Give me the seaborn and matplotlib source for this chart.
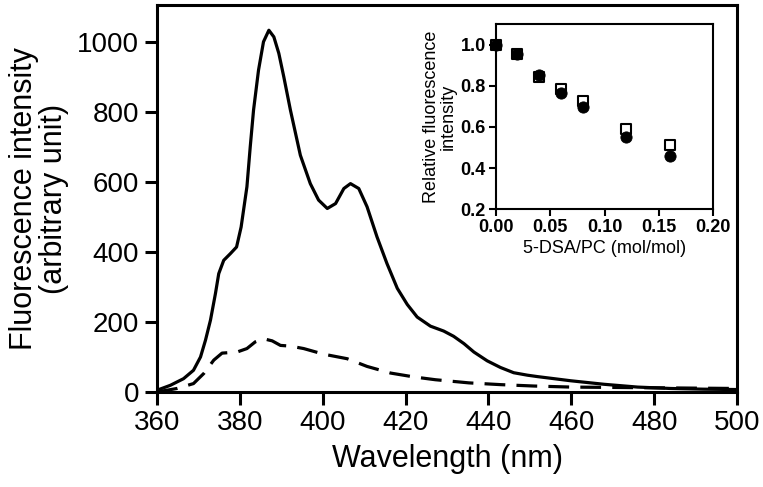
import numpy as np
import pandas as pd
import matplotlib
matplotlib.use("Agg")
import matplotlib.pyplot as plt
import seaborn as sns

sns.set_style("ticks")
plt.rcParams['font.family'] = ['Liberation Sans', 'DejaVu Sans']
plt.rcParams['text.color'] = 'black'
plt.rcParams['axes.labelcolor'] = 'black'
plt.rcParams['axes.edgecolor'] = 'black'
plt.rcParams['xtick.color'] = 'black'
plt.rcParams['ytick.color'] = 'black'

# emission spectra (wavelength, intensity)
wl_solid = [360, 363.2, 366.4, 368.8, 370.5, 371.7, 372.9, 374.1, 374.9, 376.1,
            377.7, 379.2, 380.3, 381.7, 382.5, 383.3, 384.5, 385.7, 387.0, 388.2,
            389.4, 390.6, 392.2, 394.6, 397.0, 399.0, 401.1, 403.1, 405.1, 406.7,
            408.7, 410.7, 413.1, 415.5, 418.0, 420.4, 422.8, 426.0, 429.2, 431.6,
            434.1, 436.5, 439.7, 442.9, 446.1, 449.4, 451.8, 459.9, 467.9, 476,
            484, 492, 500]
int_solid = [5, 19, 38, 62, 100, 148, 205, 281, 338, 376,
             395, 414, 471, 586, 700, 805, 919, 1000, 1033, 1014,
             967, 900, 805, 676, 595, 548, 524, 538, 581, 595,
             581, 529, 443, 367, 296, 250, 214, 188, 174, 159,
             138, 114, 89, 70, 55, 48, 44, 32, 22, 14,
             10, 8, 7]

wl_dash = [360, 364.8, 368.8, 371.3, 373.7, 375.7, 379.3, 381.7, 383.7, 385.7,
           387.8, 389.8, 392.2, 395.4, 400.2, 405.9, 410.7, 416.4, 422.0, 427.2,
           435.3, 442.9, 451.0, 460, 480, 500]
int_dash = [0, 10, 24, 53, 91, 111, 114, 124, 143, 152,
            146, 133, 131, 124, 108, 95, 73, 54, 43, 35,
            26, 21, 17, 14, 12, 10]

# inset: relative intensity vs 5-DSA/PC
ratio = [0.00, 0.02, 0.04, 0.06, 0.08, 0.12, 0.16]
rel_open = [1.00, 0.955, 0.843, 0.784, 0.724, 0.59, 0.51]
rel_filled = [1.00, 0.955, 0.85, 0.765, 0.697, 0.55, 0.46]

df_solid = pd.DataFrame({'wl': wl_solid, 'I': int_solid})
df_dash = pd.DataFrame({'wl': wl_dash, 'I': int_dash})
df_ins = pd.DataFrame({'x': ratio, 'open': rel_open, 'filled': rel_filled})

fig = plt.figure(figsize=(7.63, 4.87), dpi=100)
ax = fig.add_axes([0.2058, 0.1951, 0.7601, 0.7946])

sns.lineplot(data=df_solid, x='wl', y='I', ax=ax, color='black', lw=2.3, sort=False,
             solid_joinstyle='round', solid_capstyle='round')
sns.lineplot(data=df_dash, x='wl', y='I', ax=ax, color='black', lw=2.3, sort=False,
             dash_joinstyle='round')
ax.lines[-1].set_dashes([6.5, 3.5])

ax.set_xlim(360, 500)
ax.set_ylim(0, 1105)
ax.set_xticks(np.arange(360, 501, 20))
ax.set_yticks(np.arange(0, 1001, 200))
for sp in ax.spines.values():
    sp.set_linewidth(2.2)
ax.tick_params(width=2.2, length=9, direction='out', pad=4)
for lab in ax.get_xticklabels() + ax.get_yticklabels():
    lab.set_fontsize(20)
ax.set_xlabel('Wavelength (nm)', fontsize=22, labelpad=6)
ax.set_ylabel('Fluorescence intensity\n(arbitrary unit)', fontsize=22, labelpad=6,
              linespacing=1.0)

# inset
axi = fig.add_axes([0.6497, 0.5702, 0.2852, 0.3805])
sns.scatterplot(data=df_ins, x='x', y='open', ax=axi, marker='s', s=60,
                facecolor='white', edgecolor='black', linewidth=1.5, zorder=3,
                clip_on=False)
sns.scatterplot(data=df_ins, x='x', y='filled', ax=axi, marker='o', s=65,
                color='black', edgecolor='black', zorder=4, clip_on=False)
axi.set_xlim(0, 0.2)
axi.set_ylim(0.2, 1.1)
axi.set_xticks([0.00, 0.05, 0.10, 0.15, 0.20])
axi.set_yticks([0.2, 0.4, 0.6, 0.8, 1.0])
axi.set_xticklabels(['0.00', '0.05', '0.10', '0.15', '0.20'])
axi.set_yticklabels(['0.2', '0.4', '0.6', '0.8', '1.0'])
for sp in axi.spines.values():
    sp.set_linewidth(1.5)
axi.tick_params(width=1.5, length=5, pad=2)
for lab in axi.get_xticklabels() + axi.get_yticklabels():
    lab.set_fontsize(13)
    lab.set_fontweight('bold')
axi.set_xlabel('5-DSA/PC (mol/mol)', fontsize=13, labelpad=3)
axi.set_ylabel('Relative fluorescence\nintensity', fontsize=13, labelpad=3,
               linespacing=1.0)

fig.savefig('out.png', dpi=100)
